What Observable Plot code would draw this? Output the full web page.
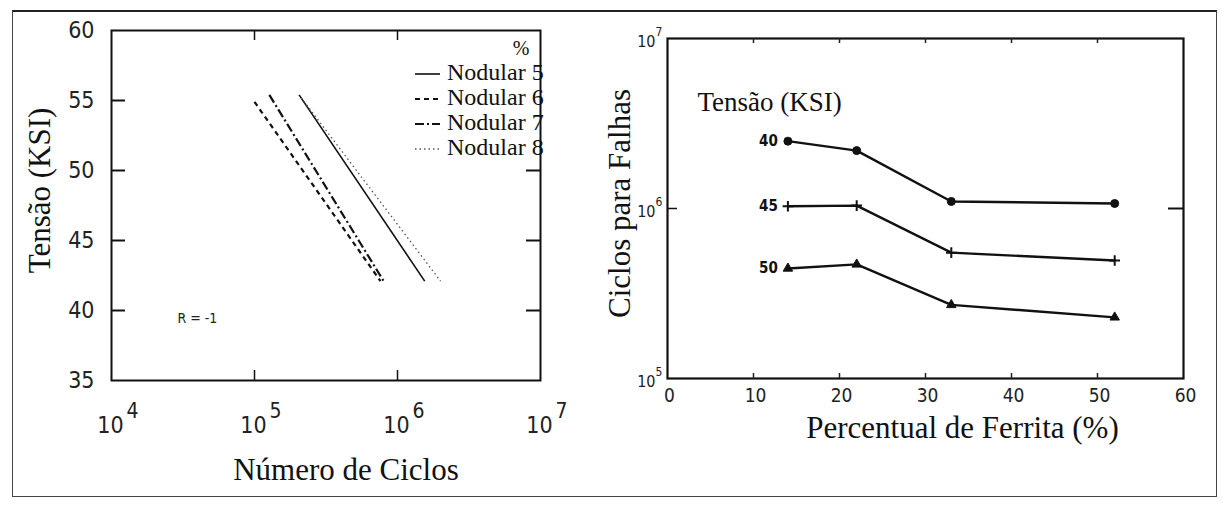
<!DOCTYPE html>
<html><head><meta charset="utf-8">
<script src="https://cdn.jsdelivr.net/npm/d3@7"></script>
<script src="https://cdn.jsdelivr.net/npm/@observablehq/plot@0.6"></script>
<style>
html,body{margin:0;padding:0;background:#fff;}
#wrap{position:relative;width:1223px;height:506px;overflow:hidden;background:#fff;}
#border{position:absolute;left:12px;top:10px;width:1205px;height:487px;border:1px solid #444;border-top:2px solid #222;box-sizing:border-box;}
.panel{position:absolute;top:0;}
#left{left:0;} #right{left:600px;}
#legend{position:absolute;left:0;top:0;pointer-events:none;}
</style></head><body>
<div id="wrap"><div id="border"></div><div id="left" class="panel"></div><div id="right" class="panel"></div><svg id="legend" width="1223" height="506"></svg></div>
<script>
// ---------- Left panel data (S-N curves) ----------
const snSeries      = ["Nodular 5", "Nodular 6", "Nodular 7", "Nodular 8"];
const snStartCycles = [2.05e5, 1.0e5, 1.27e5, 2.12e5];
const snStartStress = [55.4, 54.9, 55.4, 55.2];
const snEndCycles   = [1.55e6, 7.6e5, 8.0e5, 2.0e6];
const snEndStress   = [42.1, 42.1, 42.1, 42.1];
const leftYTicks    = [35, 40, 45, 50, 55, 60];
const leftXTicks    = [1e4, 1e5, 1e6, 1e7];
const leftXExp      = ["4", "5", "6", "7"];

// ---------- Right panel data (cycles vs ferrite %) ----------
const ferritePct   = [14, 22, 33, 52];
const stressLevels = ["40", "45", "50"];
const cycles40 = [2.49e6, 2.19e6, 1.10e6, 1.07e6];
const cycles45 = [1.03e6, 1.04e6, 5.5e5, 4.94e5];
const cycles50 = [4.44e5, 4.69e5, 2.71e5, 2.29e5];
const rightXTicks = [0, 10, 20, 30, 40, 50, 60];
const rightYTicks = [1e5, 1e6, 1e7];
const rightYExp   = ["5", "6", "7"];

// ---------- styles ----------
const serif = "'Liberation Serif','Times New Roman',serif";
const narrow = "'Liberation Sans Narrow','DejaVu Sans Condensed','Arial Narrow',sans-serif";
const lineStyle = {
  "Nodular 5": {dash: null, width: 1.6, color: "#111"},
  "Nodular 6": {dash: "5,4", width: 2.2, color: "#111"},
  "Nodular 7": {dash: "9,3,2,3", width: 2.2, color: "#111"},
  "Nodular 8": {dash: "1.5,3", width: 1.3, color: "#555"}
};
const symbolFor = {"40": "circle", "45": "plus", "50": "triangle"};

// ---------- tables ----------
const snTable = snSeries.map((s, i) => ({series: s, x1: snStartCycles[i], y1: snStartStress[i], x2: snEndCycles[i], y2: snEndStress[i]}));
const leftXTable = leftXTicks.map((v, i) => ({v, e: leftXExp[i]}));
const cyclesBy = {"40": cycles40, "45": cycles45, "50": cycles50};
const ferriteRows = stressLevels.flatMap(s => ferritePct.map((p, i) => ({stress: s, pct: p, cycles: cyclesBy[s][i]})));
const firstRows = ferriteRows.filter(d => d.pct === ferritePct[0]);
const rightYTable = rightYTicks.map((v, i) => ({v, e: rightYExp[i]}));

// ---------- Left plot ----------
const leftFrameW = 600 - 111 - 60, leftFrameH = 506 - 30 - 126;
const leftPlot = Plot.plot({
  width: 600, height: 506,
  marginLeft: 111, marginRight: 60, marginTop: 30, marginBottom: 126,
  x: {type: "log", domain: [1e4, 1e7], axis: null},
  y: {domain: [35, 60], axis: null},
  style: {background: "transparent", overflow: "visible"},
  marks: [
    Plot.frame({stroke: "#111", strokeWidth: 2}),
    Plot.tickY([40, 45, 50, 55], {y: d => d, insetRight: leftFrameW - 14, stroke: "#111", strokeWidth: 2}),
    Plot.tickY([40, 45, 50], {y: d => d, insetLeft: leftFrameW - 14, stroke: "#111", strokeWidth: 2}),
    Plot.tickX([1e5, 1e6], {x: d => d, insetBottom: leftFrameH - 10, stroke: "#111", strokeWidth: 1.5}),
    Plot.tickX([1e5, 1e6], {x: d => d, insetTop: leftFrameH - 10, stroke: "#111", strokeWidth: 1.5}),
    Plot.axisY({ticks: leftYTicks, tickSize: 0, tickPadding: 17, tickFormat: d => String(d), fontSize: 23, fontFamily: narrow, label: null, color: "#222"}),
    Plot.text(leftXTable, {x: "v", text: () => "10", frameAnchor: "bottom", dx: -1, dy: 52, fontSize: 23, fontFamily: narrow, fill: "#222"}),
    Plot.text(leftXTable, {x: "v", text: "e", frameAnchor: "bottom", dx: 21, dy: 37, fontSize: 21, fontFamily: narrow, fill: "#222"}),
    ...snSeries.map(s => Plot.link(snTable.filter(d => d.series === s), {
      x1: "x1", y1: "y1", x2: "x2", y2: "y2",
      stroke: lineStyle[s].color, strokeWidth: lineStyle[s].width, strokeDasharray: lineStyle[s].dash
    })),
    Plot.text(["R = -1"], {frameAnchor: "top-left", dx: 66, dy: 288, textAnchor: "start", lineAnchor: "middle", fontSize: 14, fontFamily: narrow, fill: "#222"}),
    Plot.text(["Número de Ciclos"], {frameAnchor: "bottom", dx: 20, dy: 90, lineAnchor: "middle", fontSize: 31, fontFamily: serif, fill: "#111"}),
    Plot.text(["Tensão (KSI)"], {frameAnchor: "left", rotate: -90, textAnchor: "middle", lineAnchor: "middle", dx: -71, dy: -15, fontSize: 31, fontFamily: serif, fill: "#111"})
  ]
});
document.getElementById("left").appendChild(leftPlot);

// ---------- Right plot ----------
const rightFrameW = 623 - 67 - 40, rightFrameH = 506 - 38 - 128;
const rightPlot = Plot.plot({
  width: 623, height: 506,
  marginLeft: 67, marginRight: 40, marginTop: 38, marginBottom: 128,
  x: {domain: [0, 60], axis: null},
  y: {type: "log", domain: [1e5, 1e7], axis: null},
  style: {background: "transparent", overflow: "visible"},
  marks: [
    Plot.frame({stroke: "#111", strokeWidth: 2.2}),
    Plot.tickX([10, 20, 30, 40, 50], {x: d => d, insetBottom: rightFrameH - 5, stroke: "#222", strokeWidth: 1.5}),
    Plot.tickX([10, 20, 30, 40, 50], {x: d => d, insetTop: rightFrameH - 5, stroke: "#222", strokeWidth: 1.5}),
    Plot.tickY([1e6], {y: d => d, insetRight: rightFrameW - 10, stroke: "#111", strokeWidth: 1.5}),
    Plot.tickY([1e6], {y: d => d, insetLeft: rightFrameW - 15, stroke: "#111", strokeWidth: 2}),
    Plot.text(rightXTicks, {x: d => d, text: d => String(d), frameAnchor: "bottom", dx: 2, dy: 17, lineAnchor: "middle", fontSize: 19, fontFamily: narrow, fill: "#222"}),
    Plot.text(rightYTable, {y: "v", text: () => "10", frameAnchor: "left", dx: -12, dy: 3, textAnchor: "end", lineAnchor: "middle", fontSize: 16, fontFamily: narrow, fill: "#222"}),
    Plot.text(rightYTable, {y: "v", text: "e", frameAnchor: "left", dx: -12, dy: -6, textAnchor: "start", lineAnchor: "middle", fontSize: 12, fontFamily: narrow, fill: "#222"}),
    Plot.line(ferriteRows, {x: "pct", y: "cycles", z: "stress", stroke: "#111", strokeWidth: 2.4}),
    ...stressLevels.map(s => Plot.dot(ferriteRows.filter(d => d.stress === s), {
      x: "pct", y: "cycles", symbol: () => symbolFor[s], r: s === "40" ? 4 : 3.5,
      fill: "#111", stroke: "#111", strokeWidth: s === "45" ? 2 : 1
    })),
    Plot.text(firstRows, {x: "pct", y: "cycles", text: "stress", dx: -10, textAnchor: "end", lineAnchor: "middle", fontSize: 15, fontWeight: "bold", fontFamily: narrow, fill: "#111"}),
    Plot.text(["Tensão (KSI)"], {frameAnchor: "top-left", dx: 30, dy: 64, textAnchor: "start", lineAnchor: "middle", fontSize: 27, fontFamily: serif, fill: "#111"}),
    Plot.text(["Ciclos para Falhas"], {frameAnchor: "left", rotate: -90, textAnchor: "middle", lineAnchor: "middle", dx: -47, dy: -5, fontSize: 31, fontFamily: serif, fill: "#111"}),
    Plot.text(["Percentual de Ferrita (%)"], {frameAnchor: "bottom", dx: 37, dy: 50, lineAnchor: "middle", fontSize: 31, fontFamily: serif, fill: "#111"})
  ]
});
document.getElementById("right").appendChild(rightPlot);

// ---------- Legend (left panel, top-right) ----------
const lg = d3.select("#legend");
lg.append("text").attr("x", 521).attr("y", 55).attr("text-anchor", "middle")
  .attr("font-family", serif).attr("font-size", 20).attr("fill", "#111").text("%");
snSeries.forEach((s, i) => {
  const yb = 80 + i * 25;
  lg.append("line").attr("x1", 415).attr("x2", 440).attr("y1", yb - 6).attr("y2", yb - 6)
    .attr("stroke", lineStyle[s].color).attr("stroke-width", lineStyle[s].width)
    .attr("stroke-dasharray", lineStyle[s].dash);
  lg.append("text").attr("x", 447).attr("y", yb).attr("font-family", serif).attr("font-size", 24)
    .attr("fill", "#111").text(s);
});
</script>
</body></html>
